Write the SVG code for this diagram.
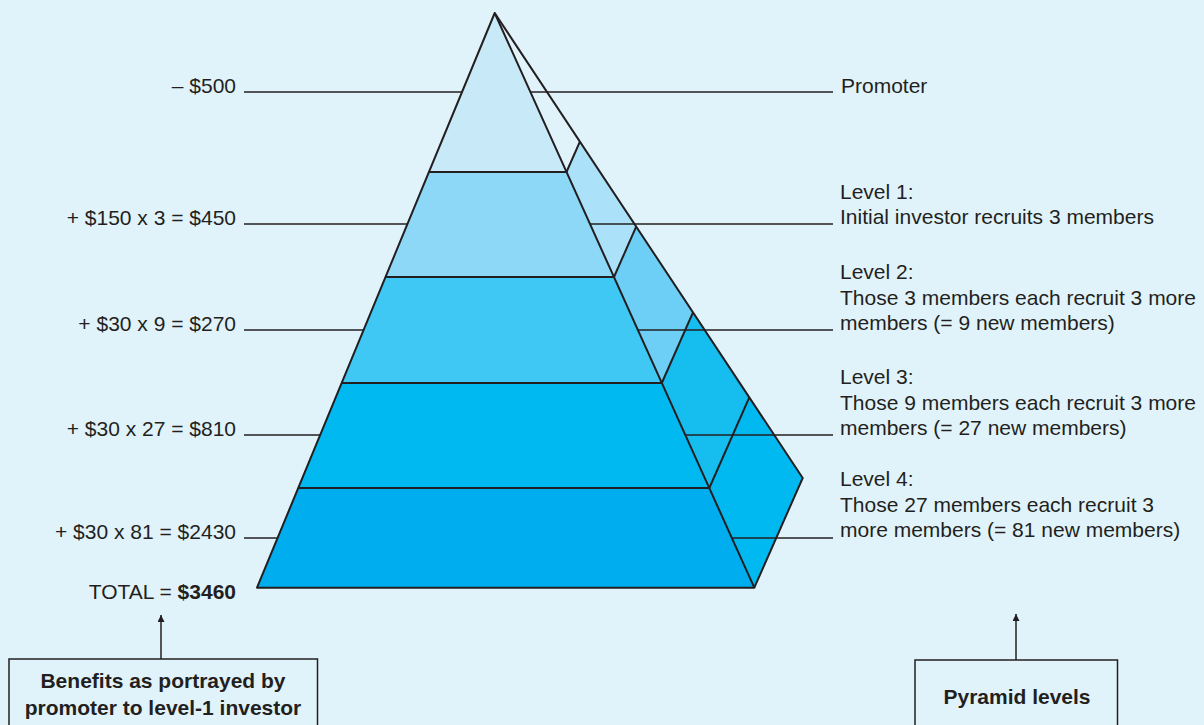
<svg xmlns="http://www.w3.org/2000/svg" width="1204" height="725" viewBox="0 0 1204 725">
  <defs>
    <style>
      .bg { fill: #E1F3FA; }
      .edge { stroke: #231F20; stroke-width: 2; stroke-linejoin: round; fill: none; }
      .lead { stroke: #231F20; stroke-width: 1.3; fill: none; }
      .lbl { font-family: "Liberation Sans", Arial, Helvetica, sans-serif; font-size: 21px; fill: #231F20; }
      .lbl-l { text-anchor: end; }
      .bold { font-weight: bold; }
      .box { fill: none; stroke: #231F20; stroke-width: 1.5; }
      .boxtxt { font-family: "Liberation Sans", Arial, Helvetica, sans-serif; font-size: 21px; font-weight: bold; fill: #231F20; text-anchor: middle; }
      .arrow { stroke: #231F20; stroke-width: 1.5; fill: none; marker-end: url(#head); }
    </style>
    <marker id="head" viewBox="0 0 10 10" refX="10" refY="5" markerUnits="userSpaceOnUse" markerWidth="11" markerHeight="7" orient="auto">
      <path d="M0,0 L10,5 L0,10 Z" fill="#231F20"/>
    </marker>
  </defs>

  <rect class="bg" x="0" y="0" width="1204" height="725"/>

  <!-- Pyramid body: front face bands and side face strips -->
  <g id="pyramid">
    <!-- front face, top to bottom -->
    <polygon points="494.7,13 428.9,172 566.5,172" fill="#C8EAF8"/>
    <polygon points="428.9,172 566.5,172 614,277 385.3,277" fill="#8DD8F6"/>
    <polygon points="385.3,277 614,277 661.8,383 341.5,383" fill="#40C8F4"/>
    <polygon points="341.5,383 661.8,383 709.3,488 298,488" fill="#00B9F1"/>
    <polygon points="298,488 709.3,488 754.3,587.7 257,587.7" fill="#00ADEE"/>

    <!-- side face strips -->
    <polygon points="494.7,13 579.9,141.6 566.5,172" fill="#E1F3FA"/>
    <polygon points="566.5,172 579.9,141.6 636.2,226.6 614,277" fill="#ABE1F9"/>
    <polygon points="614,277 636.2,226.6 693,312.4 661.8,383" fill="#6DCFF6"/>
    <polygon points="661.8,383 693,312.4 749.3,397.4 709.3,488" fill="#16BEF0"/>
    <polygon points="709.3,488 749.3,397.4 802.7,478 754.3,587.7" fill="#00B9F1"/>

    <!-- outlines -->
    <polygon class="edge" points="494.7,13 257,587.7 754.3,587.7"/>
    <polyline class="edge" points="494.7,13 802.7,478 754.3,587.7"/>
    <line class="edge" x1="428.9" y1="172" x2="566.5" y2="172"/>
    <line class="edge" x1="385.3" y1="277" x2="614" y2="277"/>
    <line class="edge" x1="341.5" y1="383" x2="661.8" y2="383"/>
    <line class="edge" x1="298" y1="488" x2="709.3" y2="488"/>
    <line class="edge" x1="566.5" y1="172" x2="579.9" y2="141.6"/>
    <line class="edge" x1="614" y1="277" x2="636.2" y2="226.6"/>
    <line class="edge" x1="661.8" y1="383" x2="693" y2="312.4"/>
    <line class="edge" x1="709.3" y1="488" x2="749.3" y2="397.4"/>
  </g>

  <!-- Leader lines for both label columns -->
  <g id="connectors">
    <line class="lead" x1="244" y1="92" x2="462" y2="92"/>
    <line class="lead" x1="244" y1="224" x2="407.4" y2="224"/>
    <line class="lead" x1="244" y1="330" x2="363.6" y2="330"/>
    <line class="lead" x1="244" y1="435" x2="320.2" y2="435"/>
    <line class="lead" x1="244" y1="538" x2="277.6" y2="538"/>

    <line class="lead" x1="530.4" y1="92" x2="833" y2="92"/>
    <line class="lead" x1="590" y1="224" x2="833" y2="224"/>
    <line class="lead" x1="637.9" y1="330" x2="833" y2="330"/>
    <line class="lead" x1="685.3" y1="435" x2="833" y2="435"/>
    <line class="lead" x1="731.9" y1="538" x2="833" y2="538"/>

    <line class="arrow" x1="161" y1="659" x2="161" y2="615"/>
    <line class="arrow" x1="1016" y1="660" x2="1016" y2="614"/>
  </g>

  <!-- Amounts column -->
  <g id="benefits">
    <text class="lbl lbl-l" x="236" y="93">– $500</text>
    <text class="lbl lbl-l" x="236" y="225">+ $150 x 3 = $450</text>
    <text class="lbl lbl-l" x="236" y="331">+ $30 x 9 = $270</text>
    <text class="lbl lbl-l" x="236" y="436">+ $30 x 27 = $810</text>
    <text class="lbl lbl-l" x="236" y="539">+ $30 x 81 = $2430</text>
    <text class="lbl lbl-l" x="236" y="599">TOTAL = <tspan class="bold">$3460</tspan></text>
  </g>

  <!-- Level descriptions column -->
  <g id="levels">
    <text class="lbl" x="841" y="93">Promoter</text>
    <text class="lbl" x="840" y="198.5">Level 1:</text>
    <text class="lbl" x="840" y="224">Initial investor recruits 3 members</text>
    <text class="lbl" x="840" y="279">Level 2:</text>
    <text class="lbl" x="840" y="304.5">Those 3 members each recruit 3 more</text>
    <text class="lbl" x="840" y="330">members (= 9 new members)</text>
    <text class="lbl" x="840" y="384">Level 3:</text>
    <text class="lbl" x="840" y="409.5">Those 9 members each recruit 3 more</text>
    <text class="lbl" x="840" y="435">members (= 27 new members)</text>
    <text class="lbl" x="840" y="486">Level 4:</text>
    <text class="lbl" x="840" y="511.5">Those 27 members each recruit 3</text>
    <text class="lbl" x="840" y="537">more members (= 81 new members)</text>
  </g>

  <!-- Caption boxes -->
  <g id="box-benefits">
    <rect class="box" x="9" y="659" width="308.5" height="80"/>
    <text class="boxtxt" x="163" y="688">Benefits as portrayed by</text>
    <text class="boxtxt" x="163" y="715">promoter to level-1 investor</text>
  </g>
  <g id="box-levels">
    <rect class="box" x="915" y="660" width="202.5" height="80"/>
    <text class="boxtxt" x="1017" y="704">Pyramid levels</text>
  </g>
</svg>
